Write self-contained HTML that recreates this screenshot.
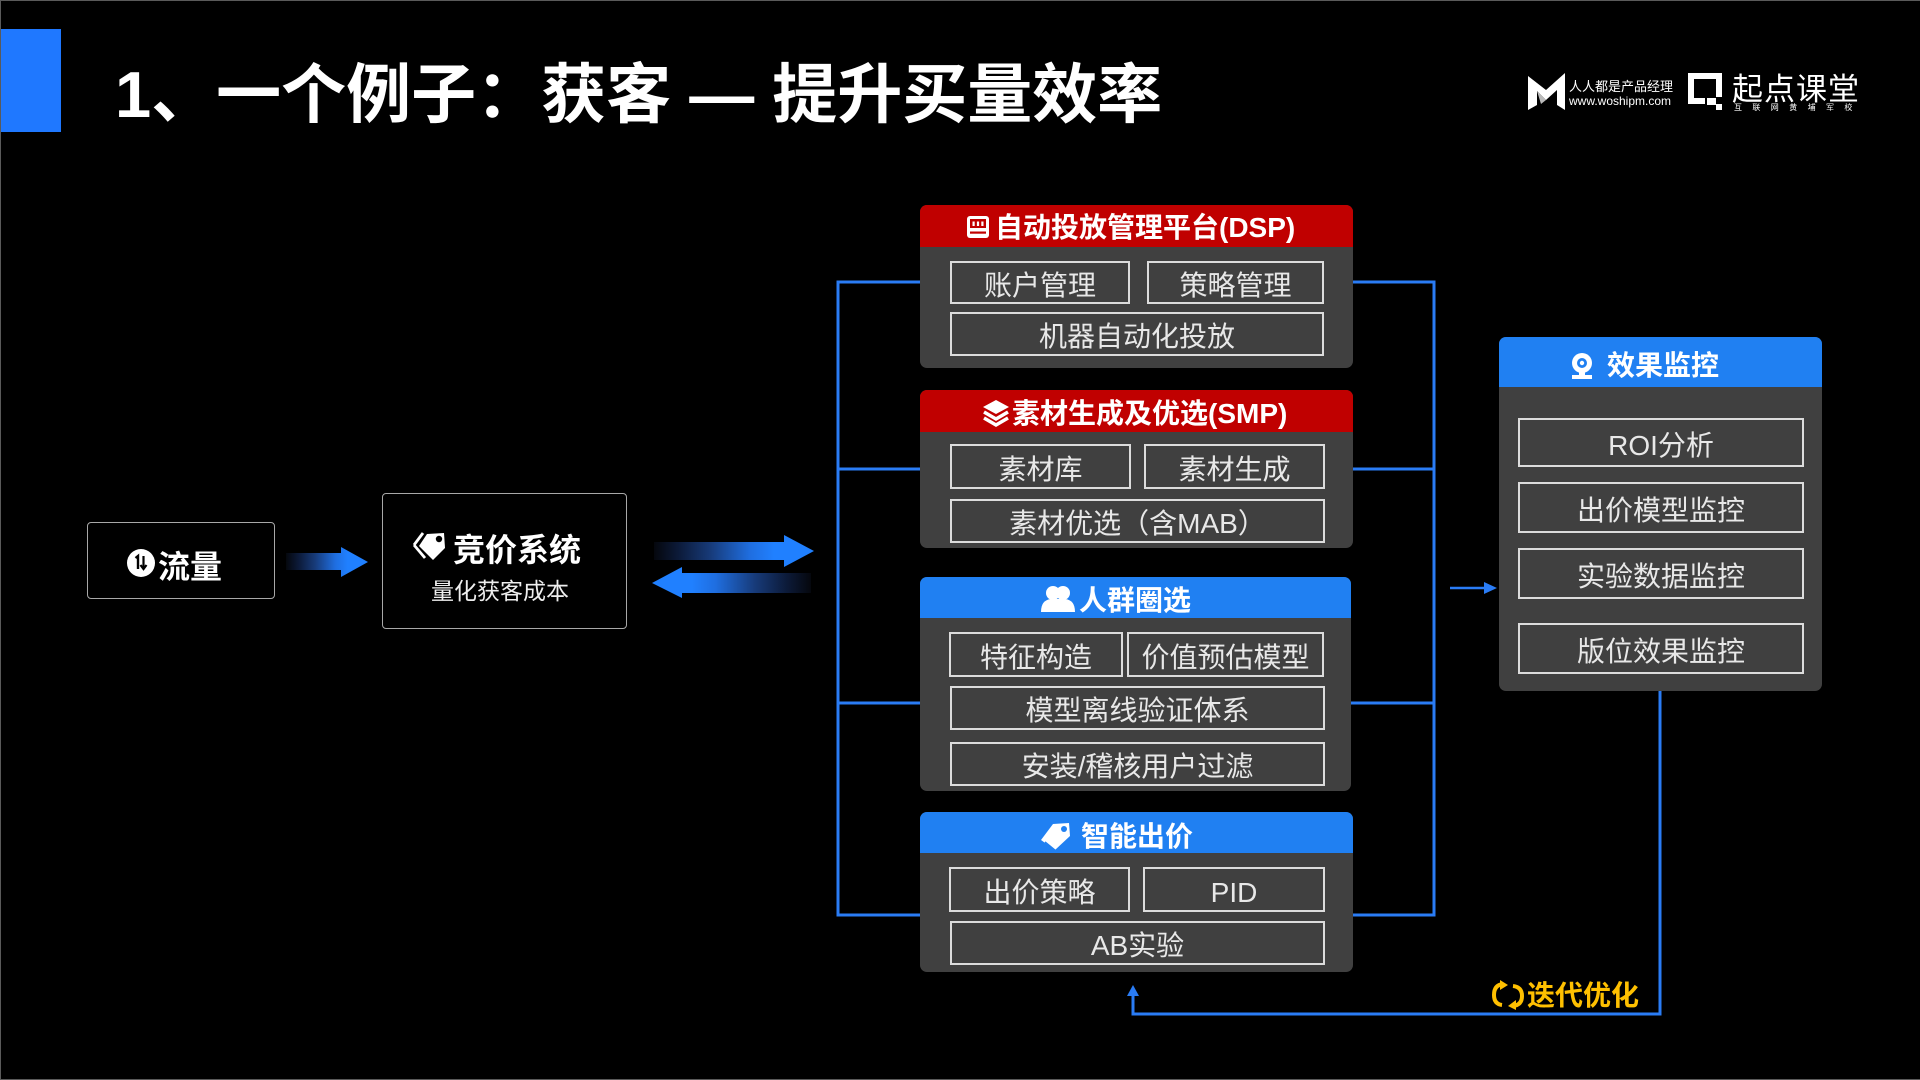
<!DOCTYPE html>
<html><head><meta charset="utf-8">
<style>
*{margin:0;padding:0;box-sizing:border-box;}
html,body{width:1920px;height:1080px;background:#000;overflow:hidden;}
body{position:relative;font-family:"Liberation Sans","Noto Sans CJK SC",sans-serif;color:#fff;}
.abs{position:absolute;}
.frame{position:absolute;left:0;top:0;width:1920px;height:1080px;border:1px solid #5a5a5a;border-right:none;}
.title{position:absolute;left:115px;top:62px;font-size:65px;font-weight:700;line-height:1;white-space:nowrap;letter-spacing:0px;}
.panel{position:absolute;background:#404040;border-radius:7px;overflow:hidden;}
.hdr{position:absolute;left:0;top:0;width:100%;}
.red{background:#c00000;}
.blue{background:#2080f2;}
.htxt{position:absolute;font-size:28px;font-weight:700;line-height:1;white-space:nowrap;color:#fff;}
.box{position:absolute;border:2px solid #dcdcdc;display:flex;align-items:center;justify-content:center;font-size:28px;line-height:1;color:#e8e8e8;white-space:nowrap;background:#404040;padding-top:6px;}
.ob{position:absolute;border:1.5px solid #a8a8a8;border-radius:4px;background:#000;}
</style></head><body>
<div class="frame"></div>
<div class="abs" style="left:1px;top:29px;width:60px;height:103px;background:#1f78ff;"></div>
<div class="title">1、一个例子：获客 — 提升买量效率</div>

<!-- logo -->
<svg class="abs" style="left:1520px;top:65px" width="400" height="55" viewBox="1520 65 400 55">
  <polygon points="1528,110 1528,76 1546,90 1565,73 1565,110 1557,105 1557,90 1546,100 1537,91 1537,105" fill="#fff"/>
  <polygon points="1537,91 1546,100 1541,104" fill="#bbb"/>
  <path d="M1688,73 H1722 V97 H1716 V79 H1694 V98 H1705 V104 H1688 Z" fill="#fff"/>
  <rect x="1707" y="98" width="9" height="7" fill="#fff"/>
  <rect x="1716" y="104" width="6" height="6" fill="#fff"/>
</svg>
<div class="abs" style="left:1569px;top:80px;font-size:13px;line-height:1;white-space:nowrap;">人人都是产品经理</div>
<div class="abs" style="left:1569px;top:95px;font-size:12px;line-height:1;white-space:nowrap;">www.woshipm.com</div>
<div class="abs" style="left:1732px;top:74px;font-size:31px;line-height:1;white-space:nowrap;letter-spacing:1px;">起点课堂</div>
<div class="abs" style="left:1734px;top:104px;font-size:8px;line-height:1;white-space:nowrap;letter-spacing:10.4px;">互联网黄埔军校</div>

<!-- lines & arrows -->
<svg class="abs" style="left:0;top:0" width="1920" height="1080">
  <defs>
    <linearGradient id="gR" x1="0" x2="1" y1="0" y2="0">
      <stop offset="0" stop-color="#05070d"/>
      <stop offset="0.15" stop-color="#0c1a38"/>
      <stop offset="0.35" stop-color="#173a78"/>
      <stop offset="0.6" stop-color="#1f6ee0"/>
      <stop offset="0.75" stop-color="#2080ff"/>
      <stop offset="1" stop-color="#2080ff"/>
    </linearGradient>
    <linearGradient id="gL" x1="1" x2="0" y1="0" y2="0">
      <stop offset="0" stop-color="#05070d"/>
      <stop offset="0.15" stop-color="#0c1a38"/>
      <stop offset="0.35" stop-color="#173a78"/>
      <stop offset="0.6" stop-color="#1f6ee0"/>
      <stop offset="0.75" stop-color="#2080ff"/>
      <stop offset="1" stop-color="#2080ff"/>
    </linearGradient>
  </defs>
  <polygon points="286,553 341,553 341,547 368,562 341,577 341,570 286,570" fill="url(#gR)"/>
  <polygon points="654,542 784,542 784,535 814,551 784,567 784,560 654,560" fill="url(#gR)"/>
  <polygon points="811,573 682,573 682,567 652,583 682,598 682,593 811,593" fill="url(#gL)"/>

  <g stroke="#2a7cf5" stroke-width="3" fill="none">
    <path d="M920,282 H838 V915 H920"/>
    <path d="M838,469 H920"/>
    <path d="M838,703 H920"/>
    <path d="M1353,282 H1434 V915 H1353"/>
    <path d="M1353,469 H1434"/>
    <path d="M1351,703 H1434"/>
    <path d="M1660,690 V1014 H1133 V994"/>
  </g>
  <line x1="1450" y1="588" x2="1486" y2="588" stroke="#2a7cf5" stroke-width="2.5"/>
  <polygon points="1484,582 1497,588 1484,594" fill="#2a7cf5"/>
  <polygon points="1127,996 1133,985 1139,996" fill="#2a7cf5"/>
</svg>

<!-- left flow -->
<div class="ob" style="left:87px;top:522px;width:188px;height:77px;"></div>
<svg class="abs" style="left:126px;top:548px" width="30" height="30" viewBox="0 0 30 30">
  <circle cx="15" cy="15" r="14" fill="#fff"/>
  <path d="M9.5,10 L12,8 V21" stroke="#000" stroke-width="2.4" fill="none"/>
  <path d="M17.5,8 V20 M14.5,17 L17.5,21 L20.5,17" stroke="#000" stroke-width="2.2" fill="none"/>
</svg>
<div class="abs" style="left:158px;top:551px;font-size:32px;font-weight:700;line-height:1;">流量</div>

<div class="ob" style="left:382px;top:493px;width:245px;height:136px;"></div>
<svg class="abs" style="left:412px;top:529px" width="40" height="34" viewBox="0 0 40 34">
  <path d="M7,17 L15,5 L32,4 L33,19 L21,31 Z" fill="#fff"/>
  <path d="M2,16 L11,4" stroke="#fff" stroke-width="2.8"/>
  <path d="M2,16 L13,29" stroke="#fff" stroke-width="2.8"/>
  <circle cx="27" cy="10" r="3.2" fill="#000"/>
</svg>
<div class="abs" style="left:453px;top:534px;font-size:32px;font-weight:700;line-height:1;">竞价系统</div>
<div class="abs" style="left:431px;top:580px;font-size:23px;line-height:1;color:#eee;">量化获客成本</div>

<!-- DSP -->
<div class="panel" style="left:920px;top:205px;width:433px;height:163px;">
  <div class="hdr red" style="height:42px;"></div>
</div>
<svg class="abs" style="left:966px;top:215px" width="24" height="24" viewBox="0 0 24 24">
  <rect x="1" y="1" width="22" height="22" rx="3" fill="#fff"/>
  <rect x="4" y="4" width="16" height="9" fill="#c00000"/>
  <rect x="6.5" y="6.5" width="2.2" height="4.5" fill="#fff"/>
  <rect x="10.9" y="6.5" width="2.2" height="4.5" fill="#fff"/>
  <rect x="15.3" y="6.5" width="2.2" height="4.5" fill="#fff"/>
  <rect x="4" y="16.5" width="16" height="2.2" fill="#c00000"/>
</svg>
<div class="htxt" style="left:995px;top:214px;">自动投放管理平台(DSP)</div>
<div class="box" style="left:950px;top:261px;width:180px;height:43px;">账户管理</div>
<div class="box" style="left:1147px;top:261px;width:177px;height:43px;">策略管理</div>
<div class="box" style="left:950px;top:312px;width:374px;height:44px;">机器自动化投放</div>

<!-- SMP -->
<div class="panel" style="left:920px;top:390px;width:433px;height:158px;">
  <div class="hdr red" style="height:42px;"></div>
</div>
<svg class="abs" style="left:981px;top:398px" width="30" height="30" viewBox="0 0 30 30">
  <polygon points="15,2 28,9 15,16 2,9" fill="#fff"/>
  <polyline points="3,14 15,21 27,14" stroke="#fff" stroke-width="3.5" fill="none"/>
  <polyline points="3,20 15,27 27,20" stroke="#fff" stroke-width="3.5" fill="none"/>
</svg>
<div class="htxt" style="left:1012px;top:400px;">素材生成及优选(SMP)</div>
<div class="box" style="left:950px;top:444px;width:181px;height:45px;">素材库</div>
<div class="box" style="left:1144px;top:444px;width:181px;height:45px;">素材生成</div>
<div class="box" style="left:950px;top:499px;width:375px;height:44px;">素材优选（含MAB）</div>

<!-- 人群圈选 -->
<div class="panel" style="left:920px;top:577px;width:431px;height:214px;">
  <div class="hdr blue" style="height:41px;"></div>
</div>
<svg class="abs" style="left:1039px;top:584px" width="38" height="30" viewBox="0 0 38 30">
  <circle cx="14" cy="9" r="7" fill="#fff"/>
  <circle cx="24" cy="9" r="7" fill="#fff"/>
  <path d="M2,28 Q2,16 12,15 L26,15 Q36,16 36,28 Z" fill="#fff"/>
</svg>
<div class="htxt" style="left:1079px;top:587px;">人群圈选</div>
<div class="box" style="left:949px;top:632px;width:174px;height:45px;">特征构造</div>
<div class="box" style="left:1127px;top:632px;width:197px;height:45px;">价值预估模型</div>
<div class="box" style="left:950px;top:686px;width:375px;height:44px;">模型离线验证体系</div>
<div class="box" style="left:950px;top:742px;width:375px;height:44px;">安装/稽核用户过滤</div>

<!-- 智能出价 -->
<div class="panel" style="left:920px;top:812px;width:433px;height:160px;">
  <div class="hdr blue" style="height:41px;"></div>
</div>
<svg class="abs" style="left:1039px;top:820px" width="36" height="32" viewBox="0 0 36 32">
  <path d="M2,20 L14,4 L30,3 L31,16 L16,30 Z" fill="#fff"/>
  <path d="M6,22 L17,31" stroke="#2080f2" stroke-width="1.5"/>
  <circle cx="25" cy="9" r="3" fill="#2080f2"/>
</svg>
<div class="htxt" style="left:1081px;top:823px;">智能出价</div>
<div class="box" style="left:949px;top:867px;width:181px;height:45px;">出价策略</div>
<div class="box" style="left:1143px;top:867px;width:182px;height:45px;">PID</div>
<div class="box" style="left:950px;top:921px;width:375px;height:44px;">AB实验</div>

<!-- 效果监控 -->
<div class="panel" style="left:1499px;top:337px;width:323px;height:354px;">
  <div class="hdr blue" style="height:50px;"></div>
</div>
<svg class="abs" style="left:1569px;top:352px" width="26" height="28" viewBox="0 0 26 28">
  <circle cx="13" cy="11" r="10" fill="#fff"/>
  <circle cx="13" cy="11" r="5" fill="#2080f2"/>
  <circle cx="13" cy="11" r="2.2" fill="#fff"/>
  <rect x="3" y="23" width="20" height="4" fill="#fff"/>
  <rect x="10" y="20" width="6" height="4" fill="#fff"/>
</svg>
<div class="htxt" style="left:1607px;top:352px;">效果监控</div>
<div class="box" style="left:1518px;top:418px;width:286px;height:49px;">ROI分析</div>
<div class="box" style="left:1518px;top:482px;width:286px;height:51px;">出价模型监控</div>
<div class="box" style="left:1518px;top:548px;width:286px;height:51px;">实验数据监控</div>
<div class="box" style="left:1518px;top:623px;width:286px;height:51px;">版位效果监控</div>

<!-- 迭代优化 -->
<svg class="abs" style="left:1491px;top:980px" width="34" height="30" viewBox="0 0 34 30">
  <path d="M12,4 Q3,5 3,15 Q3,24 11,25" stroke="#ffc000" stroke-width="4" fill="none"/>
  <polygon points="9,0 17,5 9,10" fill="#ffc000"/>
  <path d="M22,6 Q31,7 31,16 Q31,25 22,26" stroke="#ffc000" stroke-width="4" fill="none"/>
  <polygon points="25,20 17,26 25,30" fill="#ffc000"/>
</svg>
<div class="abs" style="left:1527px;top:982px;font-size:28px;font-weight:700;line-height:1;color:#ffc000;white-space:nowrap;">迭代优化</div>
</body></html>
